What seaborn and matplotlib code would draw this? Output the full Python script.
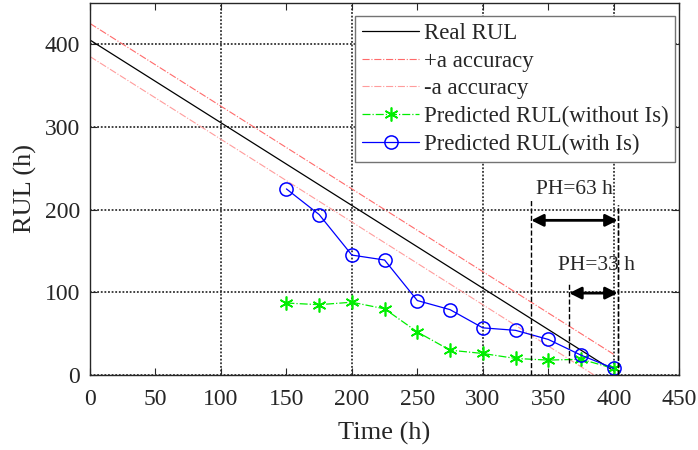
import numpy as np
import pandas as pd
import matplotlib
matplotlib.use('Agg')
import matplotlib.pyplot as plt
import seaborn as sns

# 데이터
t_real = [0, 400]
rul_real = [405, 5]
alpha = 20  # 정확도 범위 (h)

t_pred = [150, 175, 200, 225, 250, 275, 300, 325, 350, 375, 400]
rul_without_is = [87, 85, 88, 80, 52, 30, 26, 20, 18, 19, 8]
rul_with_is = [225, 194, 145, 139, 90, 79, 57, 54, 43, 24, 8]

# PH 표시 (시작, 끝, 화살표 높이, 글자 위치)
ph_labels = ['PH=63 h', 'PH=33 h']
ph_start = [337, 366]
ph_end = [403, 403]
ph_arrow_y = [187, 99]
ph_text_x = [370, 387]
ph_text_y = [224, 132]
ph_line_top = [213, 112]
ph_line_bottom = [0, 15]
ph_end_top = [205, 205]

sns.set_style('ticks')
plt.rcParams['font.family'] = ['Liberation Serif', 'DejaVu Serif']

fig = plt.figure(figsize=(6.98, 4.5), dpi=100)
ax = fig.add_axes([0.129, 0.1667, 0.844, 0.827])

real = pd.DataFrame({'t': t_real, 'rul': rul_real})
sns.lineplot(data=real, x='t', y='rul', color='black', lw=0.9, label='Real RUL', ax=ax)
upper = real.assign(rul=real['rul'] + alpha)
lower = real.assign(rul=real['rul'] - alpha)
sns.lineplot(data=upper, x='t', y='rul', color='#ff6a6a', lw=0.8, linestyle='-.',
             label='+a accuracy', ax=ax)
sns.lineplot(data=lower, x='t', y='rul', color='#ff9c9c', lw=0.8, linestyle='-.',
             label='-a accuracy', ax=ax)

pred = pd.DataFrame({'t': t_pred, 'no_is': rul_without_is, 'is': rul_with_is})
sns.lineplot(data=pred, x='t', y='no_is', color='#00ee00', lw=0.9, linestyle='-.',
             marker=(6, 2, 0), markersize=10, markeredgewidth=1.2,
             markeredgecolor='#00ee00', markerfacecolor='#00ee00',
             label='Predicted RUL(without Is)', ax=ax)
sns.lineplot(data=pred, x='t', y='is', color='#0000ff', lw=0.9,
             marker='o', markersize=9.5, markerfacecolor='none', markeredgecolor='#0000ff',
             markeredgewidth=1.1, label='Predicted RUL(with Is)', ax=ax)

# PH 화살표
for i in range(len(ph_labels)):
    ax.vlines(ph_start[i], ph_line_bottom[i], ph_line_top[i], colors='black',
              linestyles='--', lw=1.0)
    ax.vlines(ph_end[i], 0, ph_end_top[i], colors='black', linestyles='--', lw=1.0)
    ax.annotate('', xy=(ph_end[i], ph_arrow_y[i]), xytext=(ph_start[i], ph_arrow_y[i]),
                arrowprops=dict(arrowstyle='<|-|>', color='black', lw=2,
                                mutation_scale=18, shrinkA=0, shrinkB=0))
    ax.text(ph_text_x[i], ph_text_y[i], ph_labels[i],
            ha='center', va='center', fontsize=15.5)

ax.set_xlim(0, 450)
ax.set_ylim(0, 450)
ax.set_xticks(np.arange(0, 451, 50))
ax.set_yticks([0, 100, 200, 300, 400])
ax.tick_params(direction='in', top=True, right=True, labelsize=17, length=5, width=0.8)
ax.tick_params(axis='x', pad=10)
ax.tick_params(axis='y', pad=7)
ax.grid(True, color='0.2', linestyle=(0, (1, 1)), linewidth=1.3)
for tick_val, gl in zip(np.arange(0, 451, 50), ax.xaxis.get_gridlines()):
    if tick_val % 100 != 0:
        gl.set_visible(False)
for sp in ax.spines.values():
    sp.set_linewidth(1.0)

ax.set_xlabel('Time (h)', fontsize=19, labelpad=9)
ax.set_ylabel('RUL (h)', fontsize=19, labelpad=6)

leg = ax.legend(loc='upper right', bbox_to_anchor=(0.993, 0.965), fontsize=16.4,
                fancybox=False, framealpha=1, edgecolor='0.45',
                handlelength=2.5, handletextpad=0.2, borderpad=0.3, labelspacing=0.3,
                borderaxespad=0)
leg.get_frame().set_linewidth(1.0)

fig.savefig('out.png', dpi=100)
